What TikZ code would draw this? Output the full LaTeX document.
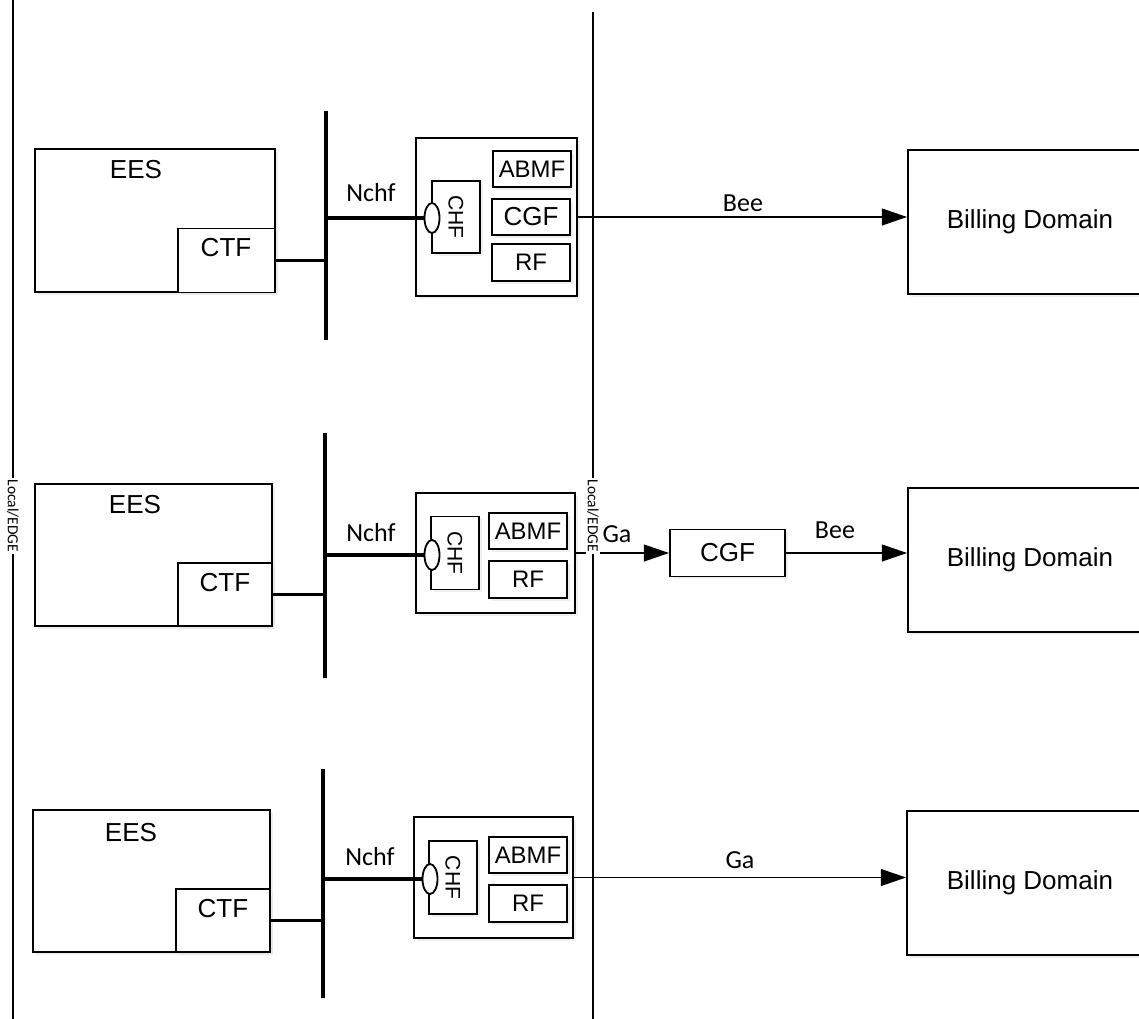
\documentclass[tikz,border=0pt]{standalone}
\usepackage{fontspec}
\setmainfont{Liberation Sans}
\newfontfamily\calibri{Carlito}
\usetikzlibrary{positioning,arrows.meta,shapes.geometric,shadows}

\tikzset{
  box/.style={draw, line width=1.3pt, fill=white, inner sep=0pt,
    drop shadow={shadow xshift=1.8pt, shadow yshift=-1.8pt, fill=black!12}},
  port/.style={draw, ellipse, line width=1.3pt, fill=white, inner sep=0pt,
    minimum width=0.375cm, minimum height=0.75cm},
  bigtxt/.style={font=\fontsize{18.5}{22}\selectfont, inner sep=0pt},
  midtxt/.style={font=\fontsize{17}{20}\selectfont},
  chftxt/.style={font=\fontsize{15}{18}\selectfont, rotate=-90, inner sep=0pt},
  iface/.style={font=\calibri\fontsize{18.5}{22}\selectfont, inner sep=0pt},
  bus/.style={line width=2.8pt},
  link/.style={line width=2.3pt},
  flow/.style={line width=1.2pt, -{Triangle[length=18pt,width=12pt]}},
  border/.style={line width=1.4pt},
  borderlbl/.style={font=\calibri\fontsize{11}{12}\selectfont, rotate=-90,
    fill=white, inner sep=1pt},
}

\begin{document}
\begin{tikzpicture}[x=0.025cm, y=-0.025cm]
  \useasboundingbox (0,0) rectangle (1139,1019);

  % left Local/EDGE border
  \coordinate (lt) at (13,0);
  \coordinate (lb) at (13,1019);
  \draw[border] (lt) -- (lb);
  \node[borderlbl] (llbl) at (13,516) {Local/EDGE};

  % ---- row 1: CHF with embedded CGF ----
  \node[box, minimum width=6cm, minimum height=3.575cm] (ees1) at (155,220.5) {};
  \node[bigtxt] (ees1t) at (136,170) {EES};
  \node[box, minimum width=2.425cm, minimum height=1.6cm] (ctf1) at (226.5,260.5) {};
  \node[bigtxt] (ctf1t) at (226,248) {CTF};
  \coordinate (bus1t) at (326,111);
  \coordinate (bus1b) at (326,340);
  \draw[bus] (bus1t) -- (bus1b);
  \draw[link] (ctf1.east) -- (ctf1.east -| bus1t);

  \node[box, minimum width=4.025cm, minimum height=3.95cm] (chg1) at (496.5,217) {};
  \node[box, minimum width=1.2cm, minimum height=1.8cm] (chf1) at (456,217) {};
  \node[chftxt] (chf1t) at (chf1.center) {CHF};
  \node[port] (p1) at (432,218) {};
  \node[box, midtxt, minimum width=1.95cm, minimum height=0.9cm] (abmf1) at (532,169) {ABMF};
  \node[box, bigtxt, minimum width=1.95cm, minimum height=0.9cm] (cgf1) at (531,217) {CGF};
  \node[box, midtxt, minimum width=1.95cm, minimum height=0.925cm] (rf1) at (531,262.5) {RF};
  \draw[link] (p1.west -| bus1t) -- (p1.west);
  \node[iface] (nchf1) at (371,193) {Nchf};

  \node[box, minimum width=5.85cm, minimum height=3.6cm] (bd1) at (1025,222) {};
  \node[bigtxt] (bd1t) at (1030,222) {Billing Domain};
  \draw[flow] (chg1.east) -- (chg1.east -| bd1.west);
  \node[iface] (bee1) at (743,203) {Bee};

  % ---- row 2: separate CGF ----
  \node[box, minimum width=5.925cm, minimum height=3.55cm] (ees2) at (153.5,555) {};
  \node[bigtxt] (ees2t) at (135,505) {EES};
  \node[box, minimum width=2.35cm, minimum height=1.575cm] (ctf2) at (225,594.5) {};
  \node[bigtxt] (ctf2t) at (225,583) {CTF};
  \coordinate (bus2t) at (325,433);
  \coordinate (bus2b) at (325,678);
  \draw[bus] (bus2t) -- (bus2b);
  \draw[link] (ctf2.east) -- (ctf2.east -| bus2t);

  \node[box, minimum width=3.975cm, minimum height=3cm] (chg2) at (495.5,553) {};
  \node[box, minimum width=1.2cm, minimum height=1.825cm] (chf2) at (455,553) {};
  \node[chftxt] (chf2t) at (chf2.center) {CHF};
  \node[port] (p2) at (432,555) {};
  \node[box, midtxt, minimum width=1.95cm, minimum height=0.9cm] (abmf2) at (528,531) {ABMF};
  \node[box, midtxt, minimum width=1.95cm, minimum height=0.925cm] (rf2) at (528,579.5) {RF};
  \draw[link] (p2.west -| bus2t) -- (p2.west);
  \node[iface] (nchf2) at (371,533) {Nchf};

  \node[box, bigtxt, minimum width=2.875cm, minimum height=1.175cm] (cgf2) at (727.5,553) {CGF};
  \node[box, minimum width=5.85cm, minimum height=3.6cm] (bd2) at (1025,560) {};
  \node[bigtxt] (bd2t) at (1030,560) {Billing Domain};
  \draw[flow] (chg2.east) -- (cgf2.west);
  \node[iface] (ga2) at (617,534) {Ga};
  \draw[flow] (cgf2.east) -- (cgf2.east -| bd2.west);
  \node[iface] (bee2) at (835,530) {Bee};

  % ---- row 3: CHF straight to billing ----
  \node[box, minimum width=5.925cm, minimum height=3.55cm] (ees3) at (151.5,881) {};
  \node[bigtxt] (ees3t) at (131,833) {EES};
  \node[box, minimum width=2.35cm, minimum height=1.575cm] (ctf3) at (223,920.5) {};
  \node[bigtxt] (ctf3t) at (223,909) {CTF};
  \coordinate (bus3t) at (323,769);
  \coordinate (bus3b) at (323,998);
  \draw[bus] (bus3t) -- (bus3b);
  \draw[link] (ctf3.east) -- (ctf3.east -| bus3t);

  \node[box, minimum width=3.975cm, minimum height=3.025cm] (chg3) at (493.5,877.5) {};
  \node[box, minimum width=1.2cm, minimum height=1.825cm] (chf3) at (453,877.5) {};
  \node[chftxt] (chf3t) at (chf3.center) {CHF};
  \node[port] (p3) at (430,879) {};
  \node[box, midtxt, minimum width=1.95cm, minimum height=0.9cm] (abmf3) at (528,855) {ABMF};
  \node[box, midtxt, minimum width=1.95cm, minimum height=0.925cm] (rf3) at (528,903.5) {RF};
  \draw[link] (p3.west -| bus3t) -- (p3.west);
  \node[iface] (nchf3) at (370,857) {Nchf};

  \node[box, minimum width=5.875cm, minimum height=3.6cm] (bd3) at (1024.5,883) {};
  \node[bigtxt] (bd3t) at (1030,883) {Billing Domain};
  \draw[flow] (chg3.east) -- (chg3.east -| bd3.west);
  \node[iface] (ga3) at (740,860) {Ga};

  % middle Local/EDGE border
  \coordinate (mt) at (593,12);
  \coordinate (mb) at (593,1019);
  \draw[border] (mt) -- (mb);
  \node[borderlbl] (mlbl) at (593,516) {Local/EDGE};
\end{tikzpicture}
\end{document}
